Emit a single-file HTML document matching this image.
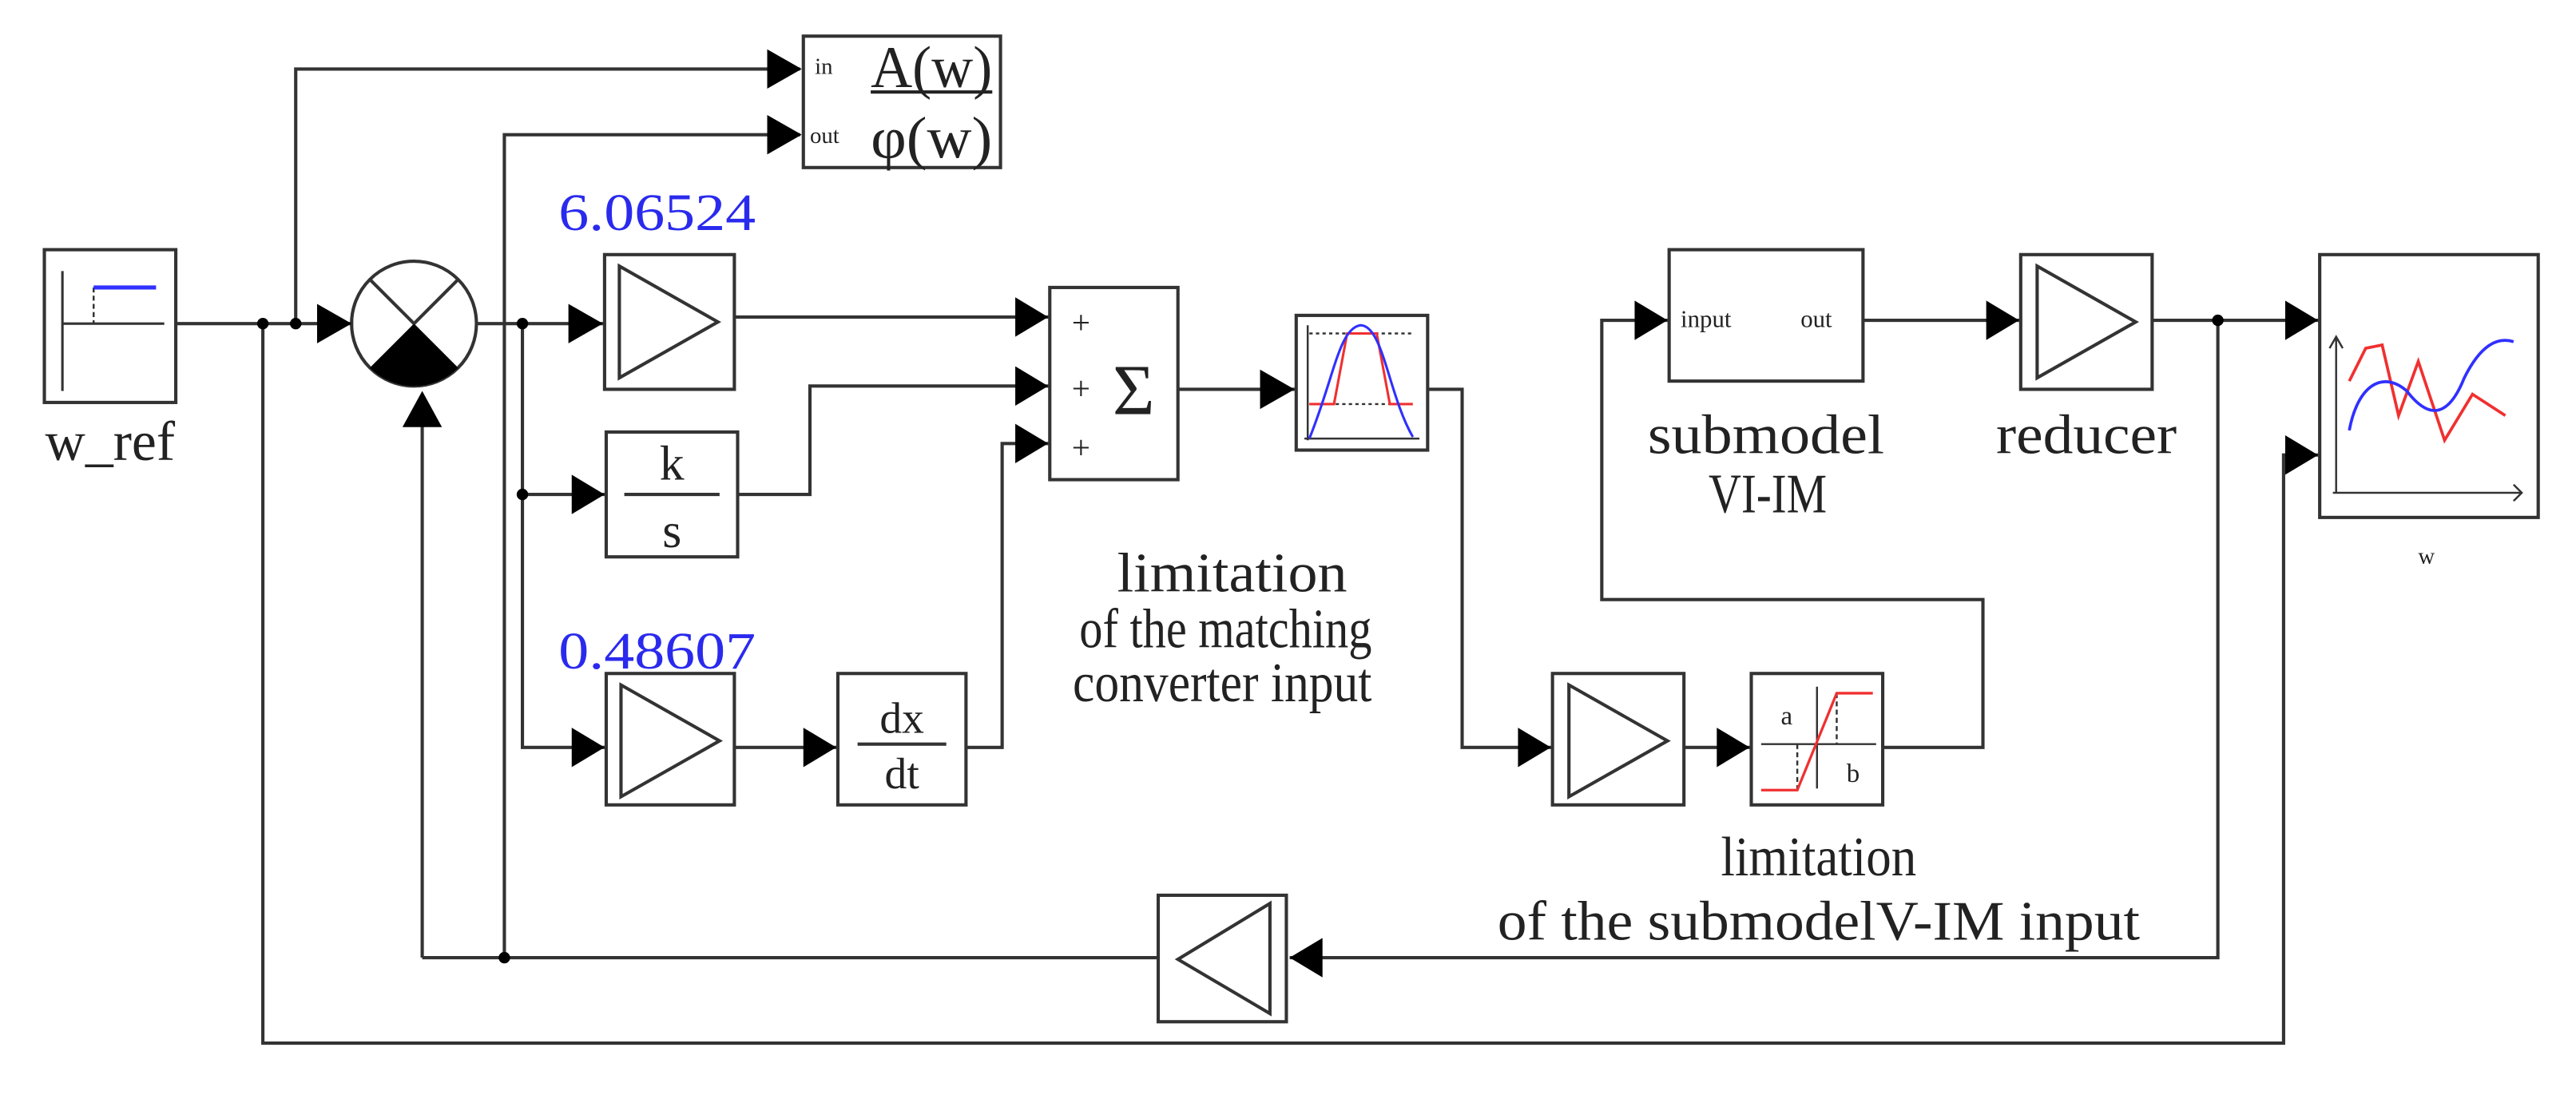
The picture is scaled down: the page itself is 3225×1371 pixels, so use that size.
<!DOCTYPE html>
<html><head><meta charset="utf-8"><style>
html,body{margin:0;padding:0;background:#fff;}
svg{display:block;}
text{font-family:"Liberation Serif",serif;fill:#222;}
</style></head><body>
<svg width="3225" height="1371" viewBox="0 0 1568 666.6" preserveAspectRatio="none" xmlns="http://www.w3.org/2000/svg">
<g fill="none" stroke="#333" stroke-width="2">
<rect x="27" y="152" width="80" height="93"/>
<rect x="489" y="22" width="120" height="80"/>
<rect x="368" y="155" width="79" height="82"/>
<rect x="369" y="263" width="80" height="76"/>
<rect x="369" y="410" width="78" height="80"/>
<rect x="510" y="410" width="78" height="80"/>
<rect x="639" y="175" width="78" height="117"/>
<rect x="789" y="192" width="80" height="82"/>
<rect x="945" y="410" width="80" height="80"/>
<rect x="1066" y="410" width="80" height="80"/>
<rect x="1016" y="152" width="118" height="80"/>
<rect x="1230" y="155" width="80" height="82"/>
<rect x="1412" y="155" width="133" height="160"/>
<rect x="705" y="545" width="78" height="77"/>
<circle cx="252" cy="197" r="38"/>
<polyline points="107,197 215,197"/>
<polyline points="180,197 180,42 487,42"/>
<polyline points="160,197 160,635 1390,635 1390,277 1412,277"/>
<polyline points="257,583 257,240"/>
<polyline points="1350,195 1350,583 785,583"/>
<polyline points="705,583 257,583"/>
<polyline points="307,583 307,82 487,82"/>
<polyline points="290,197 368,197"/>
<polyline points="318,197 318,455 369,455"/>
<polyline points="318,301 369,301"/>
<polyline points="447,193 639,193"/>
<polyline points="449,301 493,301 493,235 639,235"/>
<polyline points="447,455 510,455"/>
<polyline points="588,455 610,455 610,270 639,270"/>
<polyline points="717,237 789,237"/>
<polyline points="869,237 890,237 890,455 945,455"/>
<polyline points="1025,455 1066,455"/>
<polyline points="1146,455 1207,455 1207,365 975,365 975,195 1016,195"/>
<polyline points="1134,195 1230,195"/>
<polyline points="1310,195 1412,195"/>
<polygon points="377,162 377,230 437,196"/>
<polygon points="378,417 378,485 438,451"/>
<polygon points="955,417 955,485 1015,451"/>
<polygon points="1240,162 1240,230 1300,196"/>
<polygon points="773,550 773,617 717,584"/>
<line x1="225.1" y1="170.1" x2="252" y2="197"/>
<line x1="278.9" y1="170.1" x2="252" y2="197"/>
<line x1="380" y1="301" x2="438" y2="301"/>
<line x1="522" y1="453" x2="576" y2="453"/>
<line x1="530" y1="56" x2="604" y2="56" stroke="#222"/>
<line x1="38" y1="238" x2="38" y2="165" stroke-width="1.5"/>
<line x1="38" y1="197" x2="100" y2="197" stroke-width="1.5"/>
<line x1="57" y1="175" x2="57" y2="197" stroke-width="1.2" stroke-dasharray="3,2"/>
<polyline points="57,175 95,175" stroke="#3030ff" stroke-width="2.5"/>
<line x1="796" y1="268" x2="796" y2="198" stroke-width="1.2"/>
<line x1="794" y1="267" x2="864" y2="267" stroke-width="1.2"/>
<line x1="797" y1="203" x2="860" y2="203" stroke-width="1.2" stroke-dasharray="2,2"/>
<line x1="797" y1="246" x2="860" y2="246" stroke-width="1.2" stroke-dasharray="2,2"/>
<polyline points="797,246 812,246 820,203 838,203 846,246 860,246" stroke="#f03030" stroke-width="1.5"/>
<path d="M797,267 C812,230 815,200 828,198 C842,198 845,240 860,266" stroke="#3030ff" stroke-width="1.5"/>
<line x1="1106" y1="480" x2="1106" y2="418" stroke-width="1.2"/>
<line x1="1072" y1="453" x2="1142" y2="453" stroke-width="1.2"/>
<line x1="1118" y1="422" x2="1118" y2="453" stroke-width="1.2" stroke-dasharray="3,2"/>
<line x1="1094" y1="453" x2="1094" y2="481" stroke-width="1.2" stroke-dasharray="3,2"/>
<polyline points="1072,481 1094,481 1118,422 1140,422" stroke="#f03030" stroke-width="1.6"/>
<line x1="1422" y1="300" x2="1422" y2="205" stroke-width="1.2"/>
<line x1="1420" y1="300" x2="1535" y2="300" stroke-width="1.2"/>
<polyline points="1530,295 1535,300 1530,305" stroke-width="1.2"/>
<polyline points="1418,212 1422,205 1426,212" stroke-width="1.2"/>
<polyline points="1430,232 1440,212 1450,210 1460,253 1472,220 1488,268 1505,240 1525,253" stroke="#f03030" stroke-width="1.8"/>
<path d="M1430,262 C1435,235 1450,225 1465,238 C1478,255 1490,255 1500,230 C1510,210 1520,205 1530,208" stroke="#3030ff" stroke-width="1.8"/>
</g>
<g fill="#000">
<path d="M252,197 L225.1,223.9 A38,38 0 0 0 278.9,223.9 Z"/>
<circle cx="160" cy="197" r="3.5"/><circle cx="180" cy="197" r="3.5"/>
<circle cx="318" cy="197" r="3.5"/><circle cx="318" cy="301" r="3.5"/>
<circle cx="307" cy="583" r="3.5"/><circle cx="1350" cy="195" r="3.5"/>
<polygon points="193,185 214,197 193,209"/>
<polygon points="467,30 488,42 467,54"/>
<polygon points="467,70 488,82 467,94"/>
<polygon points="245,260 257,238 269,260"/>
<polygon points="346,185 367,197 346,209"/>
<polygon points="348,289 368,301 348,313"/>
<polygon points="348,443 368,455 348,467"/>
<polygon points="489,443 509,455 489,467"/>
<polygon points="618,181 638,193 618,205"/>
<polygon points="618,223 638,235 618,247"/>
<polygon points="618,258 638,270 618,282"/>
<polygon points="767,225 788,237 767,249"/>
<polygon points="924,443 944,455 924,467"/>
<polygon points="1045,443 1065,455 1045,467"/>
<polygon points="995,183 1015,195 995,207"/>
<polygon points="1209,183 1229,195 1209,207"/>
<polygon points="1391,183 1411,195 1391,207"/>
<polygon points="1391,265 1411,277 1391,289"/>
<polygon points="785,583 805,571 805,595"/>
</g>
<g font-size="34" text-anchor="middle">
<text x="67" y="280" textLength="79" lengthAdjust="spacingAndGlyphs">w_ref</text>
<text x="1075" y="276" textLength="144" lengthAdjust="spacingAndGlyphs">submodel</text>
<text x="1076" y="312" textLength="72" lengthAdjust="spacingAndGlyphs">VI-IM</text>
<text x="1270" y="276" textLength="110" lengthAdjust="spacingAndGlyphs">reducer</text>
<text x="750" y="360" textLength="140" lengthAdjust="spacingAndGlyphs">limitation</text>
<text x="746" y="394" textLength="178" lengthAdjust="spacingAndGlyphs">of the matching</text>
<text x="744" y="427" textLength="182" lengthAdjust="spacingAndGlyphs">converter input</text>
<text x="1107" y="533" textLength="119" lengthAdjust="spacingAndGlyphs">limitation</text>
<text x="1107" y="572" textLength="391" lengthAdjust="spacingAndGlyphs">of the submodelV-IM input</text>
</g>
<text x="496" y="45" font-size="14">in</text>
<text x="493" y="87" font-size="14">out</text>
<text x="567" y="53" font-size="36" text-anchor="middle" textLength="74" lengthAdjust="spacingAndGlyphs">A(w)</text>
<text x="567" y="96" font-size="36" text-anchor="middle" textLength="74" lengthAdjust="spacingAndGlyphs">φ(w)</text>
<text x="400" y="140" font-size="32" text-anchor="middle" textLength="120" lengthAdjust="spacingAndGlyphs" style="fill:#2a2aee">6.06524</text>
<text x="400" y="407" font-size="32" text-anchor="middle" textLength="120" lengthAdjust="spacingAndGlyphs" style="fill:#2a2aee">0.48607</text>
<text x="409" y="292" font-size="30" text-anchor="middle">k</text>
<text x="409" y="333" font-size="30" text-anchor="middle">s</text>
<text x="549" y="446" font-size="27" text-anchor="middle">dx</text>
<text x="549" y="480" font-size="27" text-anchor="middle">dt</text>
<text x="658" y="203" font-size="20" text-anchor="middle">+</text>
<text x="658" y="243" font-size="20" text-anchor="middle">+</text>
<text x="658" y="279" font-size="20" text-anchor="middle">+</text>
<text x="690" y="252" font-size="44" text-anchor="middle">Σ</text>
<text x="1023" y="199" font-size="15" font-family="Liberation Sans, sans-serif">input</text>
<text x="1096" y="199" font-size="15" font-family="Liberation Sans, sans-serif">out</text>
<text x="1477" y="343" font-size="14" text-anchor="middle" font-family="Liberation Sans, sans-serif">w</text>
<text x="1084" y="441" font-size="16">a</text>
<text x="1124" y="476" font-size="16">b</text>
</svg>
</body></html>
